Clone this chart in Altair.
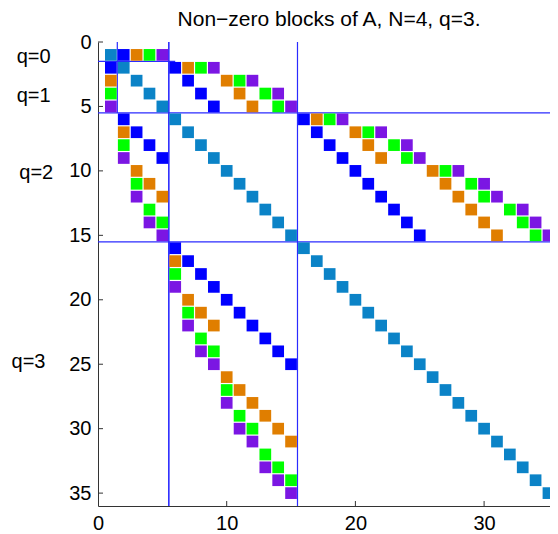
import altair as alt
import pandas as pd

# ---------------- data (1-based row / column indices of non-zero blocks) ----------
diag_rows = [1, 2, 3, 4, 5, 6, 7, 8, 9, 10, 11, 12, 13, 14, 15, 16, 17, 18, 19, 20,
             21, 22, 23, 24, 25, 26, 27, 28, 29, 30, 31, 32, 33, 34, 35]
diag_cols = [1, 2, 3, 4, 5, 6, 7, 8, 9, 10, 11, 12, 13, 14, 15, 16, 17, 18, 19, 20,
             21, 22, 23, 24, 25, 26, 27, 28, 29, 30, 31, 32, 33, 34, 35]

blue_rows = [1, 2, 2, 3, 4, 5, 6, 7, 8, 9, 6, 7, 8, 9, 10, 11, 12, 13, 14, 15,
             16, 17, 18, 19, 20, 21, 22, 23, 24, 25]
blue_cols = [2, 1, 6, 7, 8, 9, 2, 3, 4, 5, 16, 17, 18, 19, 20, 21, 22, 23, 24, 25,
             6, 7, 8, 9, 10, 11, 12, 13, 14, 15]

orange_rows = [1, 3, 2, 3, 4, 5, 7, 10, 11, 12, 6, 7, 8, 9, 10, 11, 12, 13, 14, 15,
               17, 20, 21, 22, 26, 27, 28, 29, 30, 31]
orange_cols = [3, 1, 7, 10, 11, 12, 2, 3, 4, 5, 17, 20, 21, 22, 26, 27, 28, 29, 30, 31,
               6, 7, 8, 9, 10, 11, 12, 13, 14, 15]

green_rows = [1, 4, 2, 3, 4, 5, 8, 11, 13, 14, 6, 7, 8, 9, 10, 11, 12, 13, 14, 15,
              18, 21, 23, 24, 27, 29, 30, 32, 33, 34]
green_cols = [4, 1, 8, 11, 13, 14, 2, 3, 4, 5, 18, 21, 23, 24, 27, 29, 30, 32, 33, 34,
              6, 7, 8, 9, 10, 11, 12, 13, 14, 15]

purple_rows = [1, 5, 2, 3, 4, 5, 9, 12, 14, 15, 6, 7, 8, 9, 10, 11, 12, 13, 14, 15,
               19, 22, 24, 25, 28, 30, 31, 33, 34, 35]
purple_cols = [5, 1, 9, 12, 14, 15, 2, 3, 4, 5, 19, 22, 24, 25, 28, 30, 31, 33, 34, 35,
               6, 7, 8, 9, 10, 11, 12, 13, 14, 15]

kinds = ["diag", "blue", "orange", "green", "purple"]
kind_colors = ["#0B83C7", "#0000FF", "#E07E00", "#00FF00", "#7B16E3"]

# block separator segments
line_x = [1.5, 0, 0, 5.5, 5.5, 15.5, 0]
line_x2 = [1.5, 6.0, 36, 5.5, 5.5, 15.5, 36]
line_y = [0, 1.5, 5.5, 0, 0, 0, 15.5]
line_y2 = [5.5, 1.5, 5.5, 36, 36, 36, 15.5]

q_labels = ["q=0", "q=1", "q=2", "q=3"]
q_x = [-5.0, -5.0, -4.8, -5.4]
q_y = [1.2, 4.2, 10.2, 24.8]

x_ticks = [0, 10, 20, 30]
y_ticks = [0, 5, 10, 15, 20, 25, 30, 35]
inner_x_ticks = [10, 20, 30]

title_text = "Non\u2212zero blocks of A, N=4, q=3."

# ---------------- tables ----------------
frames = []
for k, rr, cc in [("diag", diag_rows, diag_cols), ("blue", blue_rows, blue_cols),
                  ("orange", orange_rows, orange_cols), ("green", green_rows, green_cols),
                  ("purple", purple_rows, purple_cols)]:
    frames.append(pd.DataFrame({"row": rr, "col": cc, "kind": k}))
cells = pd.concat(frames, ignore_index=True)

lines = pd.DataFrame({"x": line_x, "x2": line_x2, "y": line_y, "y2": line_y2})
qdf = pd.DataFrame({"label": q_labels, "x": q_x, "y": q_y})
ytk = pd.DataFrame({"y": y_ticks})
xtk = pd.DataFrame({"x": inner_x_ticks})
tdf = pd.DataFrame({"t": [title_text]})

W, H = 452, 464
xscale = alt.Scale(domain=[0, 35.12], nice=False, zero=False)
yscale = alt.Scale(domain=[0, 36], reverse=True, nice=False, zero=False)

xaxis = alt.Axis(values=x_ticks, tickSize=0, grid=False, labelFontSize=20,
                 labelColor="black", domainColor="#333333", labelPadding=7,
                 title=None, labelFlush=False)
yaxis = alt.Axis(values=y_ticks, tickSize=0, grid=False, labelFontSize=20,
                 labelColor="black", domainColor="#333333", labelPadding=7,
                 title=None)

rules = alt.Chart(lines).mark_rule(color="#2b2bff", strokeWidth=1.2, clip=True).encode(
    x=alt.X("x:Q", scale=xscale, axis=xaxis),
    x2="x2:Q",
    y=alt.Y("y:Q", scale=yscale, axis=yaxis),
    y2="y2:Q",
)

squares = alt.Chart(cells).mark_square(size=137, opacity=1, strokeWidth=0).encode(
    x=alt.X("col:Q", scale=xscale),
    y=alt.Y("row:Q", scale=yscale),
    color=alt.Color("kind:N", scale=alt.Scale(domain=kinds, range=kind_colors), legend=None),
)

qtext = alt.Chart(qdf).mark_text(fontSize=20, align="center", baseline="middle",
                                 color="black", clip=False).encode(
    x=alt.X("x:Q", scale=xscale),
    y=alt.Y("y:Q", scale=yscale),
    text="label:N",
)

title = alt.Chart(tdf).mark_text(fontSize=21, align="center", baseline="alphabetic",
                                 color="black").encode(
    x=alt.value(231),
    y=alt.value(-16),
    text="t:N",
)

yticks = alt.Chart(ytk).mark_rule(color="#333333", strokeWidth=1).encode(
    y=alt.Y("y:Q", scale=yscale),
    x=alt.value(0),
    x2=alt.value(5),
)
xticks = alt.Chart(xtk).mark_rule(color="#333333", strokeWidth=1).encode(
    x=alt.X("x:Q", scale=xscale),
    y=alt.value(H),
    y2=alt.value(H - 5),
)

chart = alt.layer(rules, squares, qtext, title, yticks, xticks).properties(
    width=W,
    height=H,
    autosize=alt.AutoSizeParams(type="none"),
    padding={"left": 90, "top": 34, "right": 0, "bottom": 28},
).configure(font="Liberation Sans").configure_view(stroke=None)

chart.save("out.html", embed_options={"renderer": "svg", "actions": False})
